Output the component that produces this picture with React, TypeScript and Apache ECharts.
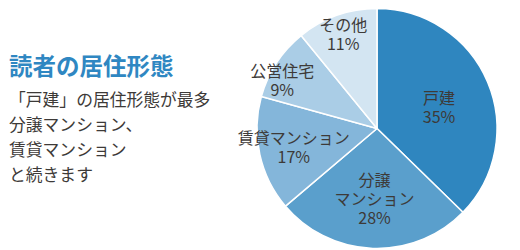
import React, { useEffect, useRef } from "react";
import * as echarts from "echarts";

const categories = ["戸建", "分譲\nマンション", "賃貸マンション", "公営住宅", "その他"];
const shares = [37.3, 26.5, 15.5, 9.8, 10.9];
const printedPercents = ["35%", "28%", "17%", "9%", "11%"];
const sliceColors = ["#2f86bf", "#5a9fcc", "#84b6da", "#aacde6", "#d3e5f2"];
const labelRadiusFrac = [0.55, 0.58, 0.71, 0.89, 0.84];
const labelAngleShift = [-3, 0, 0, 5.7, 0];

const titleText = "読者の居住形態";
const bodyLines = ["「戸建」の居住形態が最多", "分譲マンション、", "賃貸マンション", "と続きます"];

const FONT = '"Noto Sans CJK JP", "Noto Sans", sans-serif';
const CX = 377;
const CY = 128.5;
const R = 120;

export default function App() {
  const ref = useRef<HTMLDivElement>(null);
  useEffect(() => {
    if (!ref.current) return;
    const chart = echarts.init(ref.current, null, { renderer: "svg" });
    const total = shares.reduce((a, b) => a + b, 0);
    const cum: number[] = [];
    let acc = 0;
    shares.forEach((v) => {
      cum.push(acc + v / 2);
      acc += v;
    });
    chart.setOption({
      animation: false,
      backgroundColor: "#ffffff",
      graphic: [
        {
          type: "text",
          left: 9,
          top: 53,
          style: {
            text: titleText,
            fill: "#2f87c2",
            font: `bold 23.5px ${FONT}`,
          },
        },
        {
          type: "text",
          left: 9,
          top: 86,
          style: {
            text: bodyLines.join("\n"),
            fill: "#3d3a38",
            font: `16.8px ${FONT}`,
            lineHeight: 25,
          },
        },
      ],
      series: [
        {
          type: "pie",
          center: [CX, CY],
          radius: [0, R],
          startAngle: 90,
          clockwise: true,
          silent: true,
          itemStyle: { borderColor: "#ffffff", borderWidth: 1.5 },
          label: {
            show: true,
            position: "inside",
            color: "#3d3a38",
            fontFamily: FONT,
            fontSize: 16,
            lineHeight: 19,
            align: "center",
            verticalAlign: "middle",
            formatter: (p: any) => `${p.name}\n${printedPercents[p.dataIndex]}`,
          },
          labelLine: { show: false },
          labelLayout: (params: any) => {
            const i = params.dataIndex;
            const angDeg = 90 - (cum[i] / total) * 360 + labelAngleShift[i];
            const a = (angDeg * Math.PI) / 180;
            const d = labelRadiusFrac[i] * R;
            return {
              x: CX + d * Math.cos(a),
              y: CY - d * Math.sin(a),
              align: "center",
              verticalAlign: "middle",
            };
          },
          data: categories.map((name, i) => ({
            name,
            value: shares[i],
            itemStyle: { color: sliceColors[i] },
          })),
        },
      ],
    });
    return () => chart.dispose();
  }, []);
  return (
    <div
      ref={ref}
      style={{ position: "fixed", left: 0, top: 0, width: 520, height: 250 }}
    />
  );
}
